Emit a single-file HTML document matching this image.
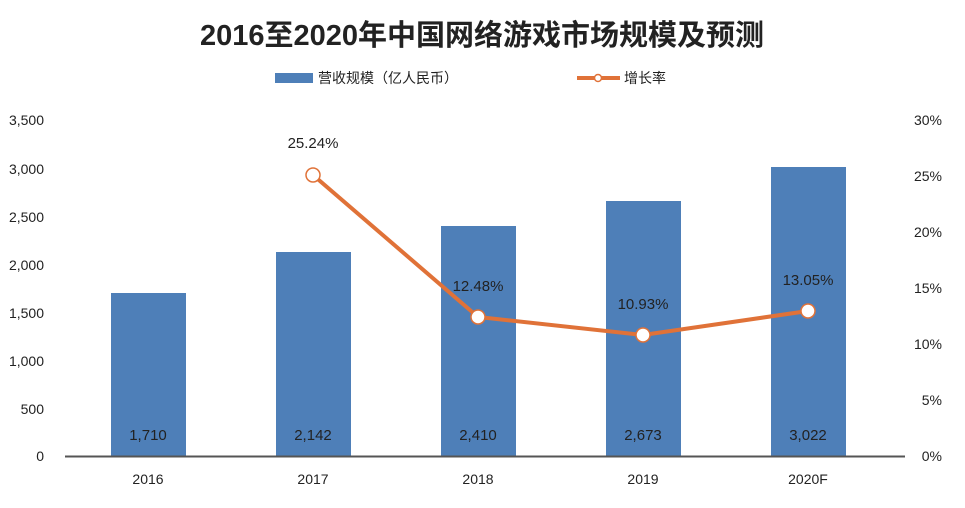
<!DOCTYPE html>
<html><head><meta charset="utf-8"><style>
html,body{margin:0;padding:0;background:#fff;}
svg{display:block;}
text{font-family:"Liberation Sans","Noto Sans CJK SC",sans-serif;fill:#222;}
</style></head><body>
<svg width="965" height="508" viewBox="0 0 965 508">
<text x="482" y="45" text-anchor="middle" font-size="29" font-weight="bold" fill="#111">2016至2020年中国网络游戏市场规模及预测</text>
<rect x="275" y="73" width="38" height="10" fill="#4e7fb8"/>
<text x="318" y="83" font-size="14">营收规模（亿人民币）</text>
<line x1="577" y1="78" x2="620" y2="78" stroke="#e07238" stroke-width="4"/>
<circle cx="598" cy="78" r="3.5" fill="#fff" stroke="#e07238" stroke-width="1.5"/>
<text x="624" y="83" font-size="14">增长率</text>
<g font-size="14" text-anchor="end">
<text x="44" y="125">3,500</text>
<text x="44" y="174">3,000</text>
<text x="44" y="222">2,500</text>
<text x="44" y="270">2,000</text>
<text x="44" y="318">1,500</text>
<text x="44" y="366">1,000</text>
<text x="44" y="414">500</text>
<text x="44" y="461">0</text>
</g>
<g font-size="14" text-anchor="end">
<text x="942" y="125">30%</text>
<text x="942" y="181">25%</text>
<text x="942" y="237">20%</text>
<text x="942" y="293">15%</text>
<text x="942" y="349">10%</text>
<text x="942" y="405">5%</text>
<text x="942" y="461">0%</text>
</g>
<g fill="#4e7fb8">
<rect x="111" y="293" width="75" height="163"/>
<rect x="276" y="252" width="75" height="204"/>
<rect x="441" y="226" width="75" height="230"/>
<rect x="606" y="201" width="75" height="255"/>
<rect x="771" y="167" width="75" height="289"/>
</g>
<line x1="65" y1="456.5" x2="905" y2="456.5" stroke="#555" stroke-width="2"/>
<g font-size="15" text-anchor="middle">
<text x="148" y="440">1,710</text>
<text x="313" y="440">2,142</text>
<text x="478" y="440">2,410</text>
<text x="643" y="440">2,673</text>
<text x="808" y="440">3,022</text>
</g>
<g font-size="14" text-anchor="middle">
<text x="148" y="484">2016</text>
<text x="313" y="484">2017</text>
<text x="478" y="484">2018</text>
<text x="643" y="484">2019</text>
<text x="808" y="484">2020F</text>
</g>
<polyline points="313,175 478,317 643,335 808,311" fill="none" stroke="#e07238" stroke-width="4"/>
<g fill="#fff" stroke="#e07238" stroke-width="1.5">
<circle cx="313" cy="175" r="7"/>
<circle cx="478" cy="317" r="7"/>
<circle cx="643" cy="335" r="7"/>
<circle cx="808" cy="311" r="7"/>
</g>
<g font-size="15" text-anchor="middle">
<text x="313" y="148">25.24%</text>
<text x="478" y="291">12.48%</text>
<text x="643" y="309">10.93%</text>
<text x="808" y="285">13.05%</text>
</g>
</svg>
</body></html>
